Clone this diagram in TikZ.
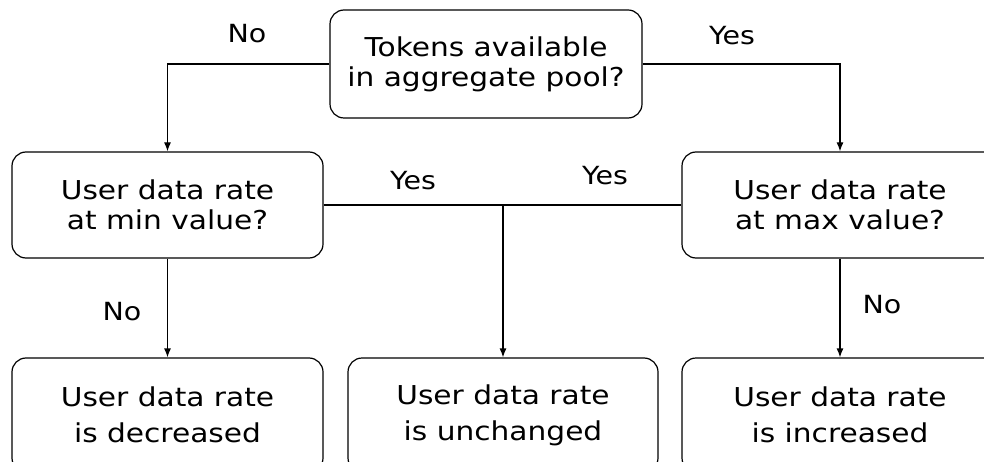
\documentclass[tikz,border=0pt]{standalone}
\usepackage{fontspec}
\setmainfont[FakeStretch=1.14]{DejaVu Sans}
\usetikzlibrary{arrows.meta}
\begin{document}
\begin{tikzpicture}[x=1pt,y=-1pt,
  box/.style={draw, line width=1.2pt, rounded corners=14pt, align=center, inner sep=0pt, font=\fontsize{26}{30}\selectfont},
  lowbox/.style={box, minimum height=114pt, font=\fontsize{26}{36}\selectfont},
  lbl/.style={font=\fontsize{25}{30}\selectfont, inner sep=0pt},
  conn/.style={line width=1.2pt, -{Latex[length=9pt,width=7pt]}},
  ln/.style={line width=1.2pt}]
\useasboundingbox (0,0) rectangle (984,462);
\clip (0,0) rectangle (984,462);
\node[box, minimum width=312pt, minimum height=108pt] (top) at (486,64) {Tokens available\\in aggregate pool?};
\node[box, minimum width=311pt, minimum height=106pt] (left) at (167.5,205) {User data rate\\at min value?};
\node[box, minimum width=316pt, minimum height=106pt] (right) at (840,205) {User data rate\\at max value?};
\node[lowbox, minimum width=311pt] (dec) at (167.5,415) {User data rate\\is decreased};
\node[lowbox, minimum width=310pt] (mid) at (503,415) {User data rate\\is unchanged};
\node[lowbox, minimum width=316pt] (inc) at (840,415) {User data rate\\is increased};
\node[lbl] (l1) at (247,34) {No};
\node[lbl] (l2) at (732,36) {Yes};
\node[lbl] (l3) at (413,181) {Yes};
\node[lbl] (l4) at (605,176) {Yes};
\node[lbl] (l5) at (122,312) {No};
\node[lbl] (l6) at (882,305) {No};
\draw[conn] (top.west) -| (left.north);
\draw[conn] (top.east) -| (right.north);
\draw[ln] (left.east) -- (right.west);
\draw[conn] (mid.north |- left.east) -- (mid.north);
\draw[conn] (left.south) -- (dec.north);
\draw[conn] (right.south) -- (inc.north);
\end{tikzpicture}
\end{document}
